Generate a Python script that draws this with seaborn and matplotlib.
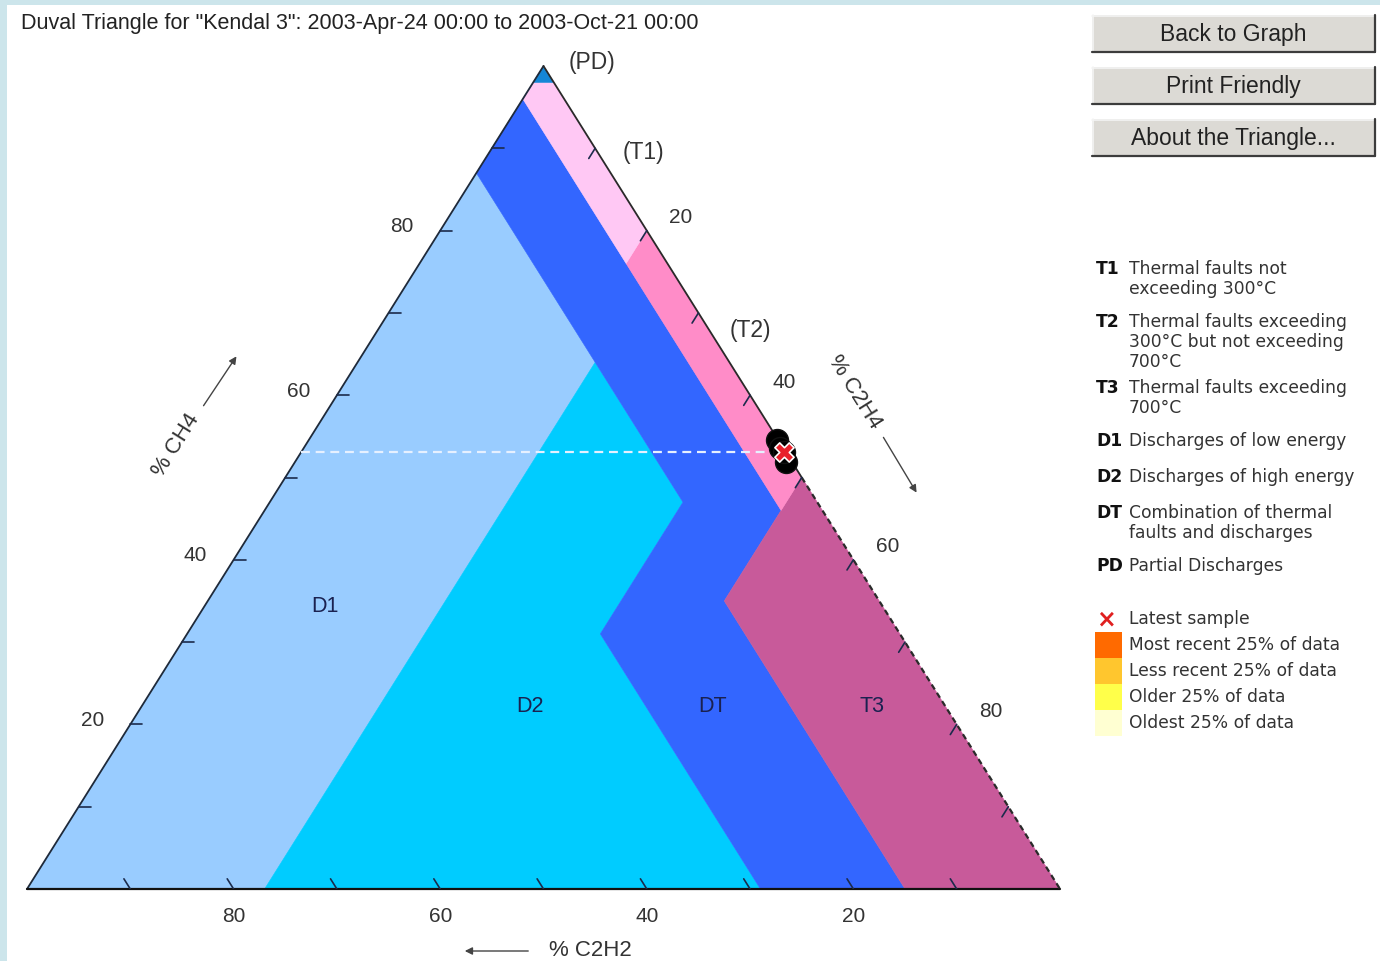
import numpy as np
import pandas as pd
import matplotlib
matplotlib.use("Agg")
import matplotlib.pyplot as plt
from matplotlib.patches import Polygon, Rectangle
import seaborn as sns

W, H = 1380, 961

# ---------------------------------------------------------------------------
# Duval triangle zones, vertices given as (%C2H2, %CH4, %C2H4)
zone_pd = [(0, 100, 0), (0, 98, 2), (2, 98, 0)]
zone_t1 = [(0, 98, 2), (0, 80, 20), (4, 76, 20), (4, 96, 0), (2, 98, 0)]
zone_t2 = [(0, 80, 20), (0, 50, 50), (4, 46, 50), (4, 76, 20)]
zone_t3 = [(0, 50, 50), (0, 0, 100), (15, 0, 85), (15, 35, 50)]
zone_d1 = [(100, 0, 0), (13, 87, 0), (13, 64, 23), (77, 0, 23)]
zone_d2 = [(77, 0, 23), (13, 64, 23), (13, 47, 40), (29, 31, 40), (29, 0, 71)]
zone_dt = [(4, 96, 0), (4, 46, 50), (15, 35, 50), (15, 0, 85), (29, 0, 71),
           (29, 31, 40), (13, 47, 40), (13, 87, 0)]

zone_polys = [zone_d1, zone_d2, zone_dt, zone_t3, zone_t2, zone_t1, zone_pd]
zone_colors = ["#99ccff", "#00ccff", "#3366ff", "#c85a9a", "#ff8cc8",
               "#ffc8f4", "#1586d6"]

# Dissolved gas samples (%C2H2, %CH4, %C2H4), oldest first, latest last
sample_c2h2 = [0.1, 0.3, 0.6, 0.2]
sample_ch4 = [54.5, 53.6, 51.9, 53.1]
sample_c2h4 = [45.4, 46.1, 47.5, 46.7]

tick_values = [10, 20, 30, 40, 50, 60, 70, 80, 90]
label_values = [20, 40, 60, 80]

legend_codes = ["T1", "T2", "T3", "D1", "D2", "DT", "PD"]
legend_texts = [
    ["Thermal faults not", "exceeding 300\u00b0C"],
    ["Thermal faults exceeding", "300\u00b0C but not exceeding", "700\u00b0C"],
    ["Thermal faults exceeding", "700\u00b0C"],
    ["Discharges of low energy"],
    ["Discharges of high energy"],
    ["Combination of thermal", "faults and discharges"],
    ["Partial Discharges"],
]
legend_rows_y = [269, 322, 388, 441, 477, 513, 566]

age_labels = ["Most recent 25% of data", "Less recent 25% of data",
              "Older 25% of data", "Oldest 25% of data"]
age_colors = ["#ff6a00", "#ffc62e", "#ffff4a", "#ffffd2"]

buttons = ["Back to Graph", "Print Friendly", "About the Triangle..."]

title = 'Duval Triangle for "Kendal 3": 2003-Apr-24 00:00 to 2003-Oct-21 00:00'


def proj(a, b, c):
    """Ternary (%C2H2, %CH4, %C2H4) -> triangle axes coordinates."""
    s = float(a + b + c)
    return (c + 0.5 * b) / s, b / s


# triangle placement on the page (pixels)
TX0, TX1, TY_BASE, TY_TOP = 27, 1060, 889, 66


def px(x, y):
    """Page pixel position -> triangle axes coordinates (for annotations)."""
    return (x - TX0) / (TX1 - TX0), (TY_BASE - y) / (TY_BASE - TY_TOP)


sns.set_theme(style="white")
plt.rcParams["font.family"] = ["Liberation Sans", "DejaVu Sans"]

fig = plt.figure(figsize=(W / 100, H / 100), dpi=100)
fig.patch.set_facecolor("white")

# page layer: frame, buttons, legend
bg = fig.add_axes([0, 0, 1, 1])
bg.set_xlim(0, W)
bg.set_ylim(H, 0)
bg.axis("off")

frame_col = "#cce5eb"
bg.add_patch(Rectangle((0, 0), W, 5, fc=frame_col, ec="none"))
bg.add_patch(Rectangle((0, 0), 7, H, fc=frame_col, ec="none"))

bg.text(21, 23, title, fontsize=15.5, color="#222222", va="center", ha="left")

for i, label in enumerate(buttons):
    y0 = 15 + i * 52
    h = 37
    bg.add_patch(Rectangle((1092, y0), 283, h, fc="#dcdad5", ec="none"))
    bg.plot([1092, 1375], [y0 + 0.5, y0 + 0.5], color="#f4f4f4", lw=1.2)
    bg.plot([1092.5, 1092.5], [y0, y0 + h], color="#f4f4f4", lw=1.2)
    bg.plot([1092, 1375], [y0 + h, y0 + h], color="#3c3c3c", lw=1.6)
    bg.plot([1375, 1375], [y0, y0 + h], color="#3c3c3c", lw=1.6)
    bg.text(1233, y0 + h / 2 + 1, label, fontsize=16.5, color="#222222",
            ha="center", va="center")

leg_fs = 12.3
for code, lines, y in zip(legend_codes, legend_texts, legend_rows_y):
    bg.text(1096, y, code, fontsize=leg_fs, fontweight="bold",
            color="#111111", family="DejaVu Sans", va="center", ha="left")
    for j, line in enumerate(lines):
        bg.text(1129, y + 20 * j, line, fontsize=leg_fs, color="#333333",
                family="DejaVu Sans", va="center", ha="left")

bg.text(1106, 619, "\u00d7", fontsize=17, fontweight="bold", color="#e02020",
        family="DejaVu Sans", va="center", ha="center")
bg.text(1129, 619, "Latest sample", fontsize=leg_fs, color="#333333",
        family="DejaVu Sans", va="center", ha="left")
for k, (lab, col) in enumerate(zip(age_labels, age_colors)):
    yc = 645 + 26 * k
    bg.add_patch(Rectangle((1095, yc - 13), 27, 26, fc=col, ec="none"))
    bg.text(1129, yc, lab, fontsize=leg_fs, color="#333333",
            family="DejaVu Sans", va="center", ha="left")

# triangle layer
ax = fig.add_axes([TX0 / W, (H - TY_BASE) / H, (TX1 - TX0) / W,
                   (TY_BASE - TY_TOP) / H])
ax.set_xlim(0, 1)
ax.set_ylim(0, 1)
ax.axis("off")
ax.patch.set_alpha(0)

for verts, col in zip(zone_polys, zone_colors):
    xy = [proj(*v) for v in verts]
    ax.add_patch(Polygon(xy, closed=True, fc=col, ec=col, lw=0.4, zorder=1))

# triangle edges
edge_col = "#1f2a3a"
p_c2h2, p_ch4, p_c2h4 = proj(100, 0, 0), proj(0, 100, 0), proj(0, 0, 100)
p_mid = proj(0, 50, 50)
ax.plot([p_c2h2[0], p_ch4[0]], [p_c2h2[1], p_ch4[1]], color=edge_col, lw=1.3,
        zorder=3, clip_on=False)
ax.plot([p_c2h2[0], p_c2h4[0]], [p_c2h2[1], p_c2h4[1]], color="#111111",
        lw=1.6, zorder=3, clip_on=False)
ax.plot([p_ch4[0], p_mid[0]], [p_ch4[1], p_mid[1]], color="#2a2a2a", lw=1.3,
        zorder=3, clip_on=False)
ax.plot([p_mid[0], p_c2h4[0]], [p_mid[1], p_c2h4[1]], color="#2a2a2a", lw=1.6,
        ls=(0, (2.6, 1.8)), zorder=3, clip_on=False)

# ticks every 10 % on each side, drawn along the constant-gas grid directions
tick_col = "#1c2b4c"
L = 12.0  # px
dx_h = L / (TX1 - TX0)
dx_s = 0.5316 * L / (TX1 - TX0)
dy_s = 0.847 * L / (TY_BASE - TY_TOP)
for v in tick_values:
    x, y = proj(100 - v, v, 0)            # %CH4 on left side
    ax.plot([x, x + dx_h], [y, y], color=tick_col, lw=1.2, zorder=3)
    x, y = proj(v, 0, 100 - v)            # %C2H2 on base
    ax.plot([x, x - dx_s], [y, y + dy_s], color=tick_col, lw=1.2, zorder=3)
    x, y = proj(0, 100 - v, v)            # %C2H4 on right side
    ax.plot([x, x - dx_s], [y, y - dy_s], color=tick_col, lw=1.2, zorder=3)

lab_kw = dict(fontsize=15, color="#333333", ha="center", va="center",
              clip_on=False)
sx = 1.0 / (TX1 - TX0)
sy = 1.0 / (TY_BASE - TY_TOP)
for v in label_values:
    x, y = proj(100 - v, v, 0)
    ax.text(x - 38 * sx, y + 4 * sy, str(v), **lab_kw)
    x, y = proj(v, 0, 100 - v)
    ax.text(x, y - 28 * sy, str(v), **lab_kw)
    x, y = proj(0, 100 - v, v)
    ax.text(x + 34 * sx, y + 13 * sy, str(v), **lab_kw)

# zone names
name_kw = dict(fontsize=15.5, color="#1a2150", ha="center", va="center")
for name, pos in [("D1", (325, 606)), ("D2", (530, 706)),
                  ("DT", (713, 706)), ("T3", (872, 706))]:
    ax.text(*px(*pos), name, **name_kw)
for name, pos in [("(PD)", (592, 63)), ("(T1)", (643, 152)),
                  ("(T2)", (750, 330))]:
    ax.text(*px(*pos), name, fontsize=16.5, color="#333333", ha="center",
            va="center", clip_on=False)

# axis titles with direction arrows
edge_angle = np.degrees(np.arctan2(TY_BASE - TY_TOP, (TX1 - TX0) / 2))
arrow_kw = dict(arrowstyle="-|>", color="#444444", lw=1.0, mutation_scale=11)
ax.text(*px(176, 445), "% CH4", rotation=edge_angle, fontsize=16,
        color="#333333", ha="center", va="center", rotation_mode="anchor")
ax.annotate("", xy=px(238, 354), xytext=px(202, 408), xycoords="data",
            arrowprops=arrow_kw, annotation_clip=False)
ax.text(*px(855, 392), "% C2H4", rotation=-edge_angle, fontsize=16,
        color="#333333", ha="center", va="center", rotation_mode="anchor")
ax.annotate("", xy=px(918, 495), xytext=px(882, 435), xycoords="data",
            arrowprops=arrow_kw, annotation_clip=False)
ax.text(*px(590, 951), "% C2H2", fontsize=16, color="#333333", ha="center",
        va="center", clip_on=False)
ax.annotate("", xy=px(462, 951), xytext=px(531, 951), xycoords="data",
            arrowprops=arrow_kw, annotation_clip=False)

# samples
pts = [proj(a, b, c) for a, b, c in zip(sample_c2h2, sample_ch4, sample_c2h4)]
df = pd.DataFrame(pts, columns=["x", "y"])

latest = df.iloc[-1]
left_x, left_y = proj(100 - sample_ch4[-1], sample_ch4[-1], 0)
ax.plot([left_x, latest["x"] - 10 * sx], [left_y, latest["y"]],
        color="#e6f0ff", lw=1.6, ls=(0, (4, 2.6)), zorder=4)

sns.scatterplot(data=df, x="x", y="y", ax=ax, color="black", s=250,
                edgecolor="#111111", linewidth=1.0, zorder=5, clip_on=False,
                legend=False)
ax.scatter([latest["x"]], [latest["y"]], marker="X", s=190, color="#e8202a",
           edgecolors="white", linewidths=1.2, zorder=6, clip_on=False)
ax.set_xlabel("")
ax.set_ylabel("")
ax.set_xlim(0, 1)
ax.set_ylim(0, 1)
ax.axis("off")

fig.savefig("out.png", dpi=100, facecolor=fig.get_facecolor())
